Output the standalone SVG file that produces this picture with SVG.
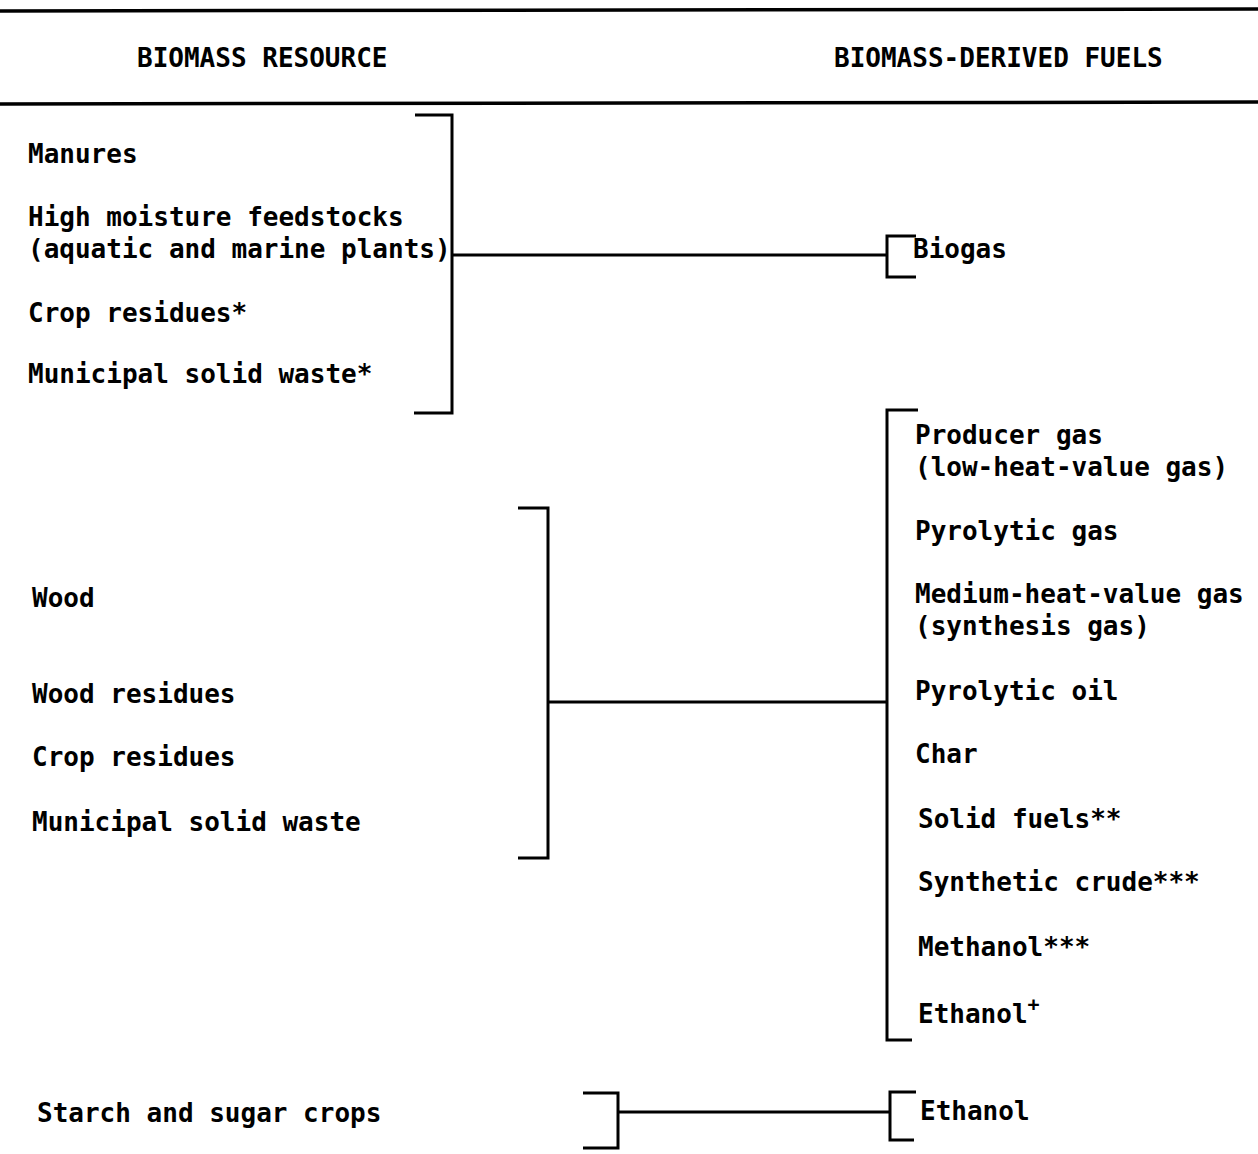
<svg xmlns="http://www.w3.org/2000/svg" width="1258" height="1154" viewBox="0 0 1258 1154">
<style>
text{font-family:"DejaVu Sans Mono","Liberation Mono",monospace;font-size:26px;font-weight:bold;fill:#000}
.ln{stroke:#000;stroke-width:3;fill:none}
.rule{stroke:#000;stroke-width:3.5}
</style>
<rect width="1258" height="1154" fill="#fff"/>
<g id="header">
<line class="rule" x1="0" y1="11" x2="1258" y2="9"/>
<line class="rule" x1="0" y1="104" x2="1258" y2="102"/>
<text x="137" y="67">BIOMASS RESOURCE</text>
<text x="834" y="67">BIOMASS-DERIVED FUELS</text>
</g>
<g id="group-wet">
<text x="28" y="163">Manures</text>
<text x="28" y="226">High moisture feedstocks</text>
<text x="28" y="258">(aquatic and marine plants)</text>
<text x="28" y="322">Crop residues*</text>
<text x="28" y="383">Municipal solid waste*</text>
<path class="ln" d="M415 115 H452 V413 H414"/>
</g>
<g id="biogas">
<path class="ln" d="M916 236 H887 V277 H916"/>
<text x="913" y="258">Biogas</text>
</g>
<g id="group-dry">
<text x="32" y="607">Wood</text>
<text x="32" y="703">Wood residues</text>
<text x="32" y="766">Crop residues</text>
<text x="32" y="831">Municipal solid waste</text>
<path class="ln" d="M518 508 H548 V858 H518"/>
</g>
<g id="thermo-fuels">
<path class="ln" d="M918 410 H887 V1040 H912"/>
<text x="915" y="444">Producer gas</text>
<text x="915" y="476">(low-heat-value gas)</text>
<text x="915" y="540">Pyrolytic gas</text>
<text x="915" y="603">Medium-heat-value gas</text>
<text x="915" y="635">(synthesis gas)</text>
<text x="915" y="700">Pyrolytic oil</text>
<text x="915" y="763">Char</text>
<text x="918" y="828">Solid fuels**</text>
<text x="918" y="891">Synthetic crude***</text>
<text x="918" y="956">Methanol***</text>
<text x="918" y="1023">Ethanol<tspan dy="-12" font-size="20">+</tspan></text>
</g>
<g id="group-sugar">
<text x="37" y="1122">Starch and sugar crops</text>
<path class="ln" d="M583 1093 H618 V1148 H583"/>
</g>
<g id="ethanol">
<path class="ln" d="M916 1092 H890 V1140 H914"/>
<text x="920" y="1120">Ethanol</text>
</g>
<g id="connectors">
<line class="ln" x1="452" y1="255" x2="887" y2="255"/>
<line class="ln" x1="548" y1="702" x2="887" y2="702"/>
<line class="ln" x1="618" y1="1112" x2="890" y2="1112"/>
</g>
</svg>
